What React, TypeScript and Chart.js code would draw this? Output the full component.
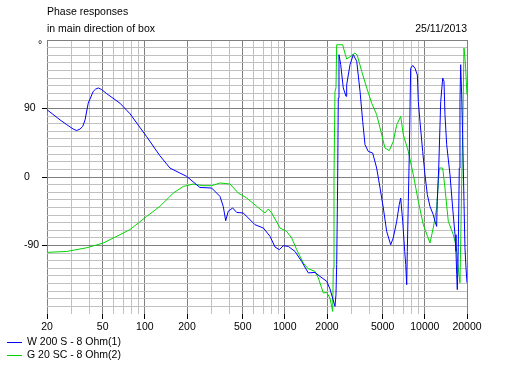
import React, { useEffect, useRef } from "react";
import { Chart, registerables } from "chart.js";

Chart.register(...registerables);

const titleLines = ["Phase responses", "in main direction of box"];
const dateText = "25/11/2013";
const unitText = "°";

const xLabeled = [20, 50, 100, 200, 500, 1000, 2000, 5000, 10000, 20000];
const xGridTicks = [20, 30, 40, 50, 60, 70, 80, 90, 100, 200, 300, 400, 500, 600, 700, 800, 900, 1000, 2000, 3000, 4000, 5000, 6000, 7000, 8000, 9000, 10000, 20000];
const yLabeled = [90, 0, -90];

const seriesNames = ["W 200 S - 8 Ohm(1)", "G 20 SC - 8 Ohm(2)"];
const seriesColors = ["#0000ff", "#00d400"];

const blueFreq = [20, 24.8, 27.7, 30.8, 32.6, 34.4, 36, 37.4, 39.4, 42.8, 44.5, 46.5, 49, 53.4, 66.4, 78.4,
  103, 128, 151, 178, 199, 247, 300, 344, 363, 378,
  394, 424, 453, 505, 612, 702, 784, 851, 913, 975,
  1059, 1182, 1318, 1470, 1643, 1782, 1990, 2100, 2281, 2318,
  2346, 2384, 2408, 2436, 2506, 2614, 2734, 2764, 2920, 3082,
  3260, 3444, 3598, 3737, 3944, 4240, 4526, 4786, 5050, 5337,
  5700, 5950, 6296, 6560, 6720, 6946, 7180, 7300, 7420, 7490,
  7620, 7740, 7920, 8190, 8500, 8840, 8980, 9230, 9650, 10020,
  10410, 10880, 11480, 11810, 12140, 12260, 12560, 12980, 13410, 13700,
  13920, 14320, 15120, 15800, 16420, 16690, 16880, 17050, 17320, 17620,
  17820, 18020, 18320, 18620, 19030, 19340, 19680, 20000];
const bluePhase = [88.4, 75, 68.7, 63, 61, 63, 66.5, 75, 97, 112.5, 115.5, 117, 115, 109.5, 97, 83,
  53, 28, 11.8, 5.2, 0.8, -13.7, -14.5, -25.5, -38.6, -57.4,
  -45, -40.7, -46.5, -47.3, -62.7, -67, -78, -92, -95.5, -90.3,
  -91.2, -97.8, -111, -126, -125.4, -130.6, -137, -147, -170, -154.7,
  -115, -1.3, 103.8, 160.7, 147.6, 117, 106, 121, 147.6, 160.7,
  152, 112.5, 73, 42.4, 33.6, 31.5, 11.8, -14.5, -40.7, -71.5,
  -89, -80, -58, -36.4, -27.6, -58, -97.8, -115, -141.5, -97.8,
  -32, 29, 143, 146.6, 143, 134, 99, 73, 33.6, 3,
  -23, -38.6, -49.5, -58, -64.9, -32, 11.8, 99, 130, 125.6,
  82, 42.4, 3, -40.7, -75.8, -97.8, -128, -148, -93, 11.8,
  99, 147.6, 108, 55.6, -32, -93, -119.6, -139];

const greenFreq = [20, 27.7, 38.4, 50.5, 66.4, 78.4, 103, 128, 160, 188,
  222, 261, 300, 344, 406, 464, 534, 630, 721, 762,
  806, 923, 1030, 1118, 1215, 1354, 1470, 1643, 1734, 1882,
  1990, 2100, 2196, 2218, 2244, 2281, 2318, 2346, 2590, 2644,
  2764, 2920, 3170, 3290, 3540, 3845, 4170, 4526, 4786, 5190,
  5570, 5950, 6296, 6720, 7014, 7620, 8270, 8980, 9750, 10880,
  11480, 12140, 12680, 13410, 13920, 14700, 15960, 16420, 16880, 17320,
  17820, 18320, 18620, 19030, 19440, 19770, 20000];
const greenPhase = [-99, -97.8, -93, -86.7, -75.8, -69, -51.8, -38.6, -21, -12.4,
  -9.2, -11.4, -11.4, -7.9, -9.2, -21, -27.6, -38.6, -47.3, -42,
  -47.3, -67, -71.5, -80, -95.5, -113, -120.5, -124, -132.7, -152.4,
  -151.6, -159, -176.6, -119.6, -1.3, 112.5, 117, 173.8, 173.8, 167,
  155, 158, 163, 160, 138.8, 117, 97, 82, 64.4, 38,
  34.6, 46.8, 68.7, 79.6, 55.6, 33.6, 3, -32, -62.7, -86.7,
  -67, -40.7, 11.8, 11.8, -14.5, -58, -75.8, -84.6, -97.8, -119.6,
  -139, -10, 55.6, 169.5, 152, 125.6, 108];

const FONT = '10.5px "Liberation Sans", Arial, sans-serif';

const textPlugin = {
  id: "textPlugin",
  afterDraw(chart: any) {
    const ctx = chart.ctx;
    const area = chart.chartArea;
    ctx.save();
    ctx.font = FONT;
    ctx.fillStyle = "#000";
    ctx.textBaseline = "middle";
    ctx.textAlign = "left";
    ctx.fillText(titleLines[0], area.left, 12.5);
    ctx.fillText(titleLines[1], area.left, 29);
    ctx.textAlign = "right";
    ctx.fillText(dateText, area.right, 29);
    ctx.textAlign = "center";
    ctx.fillText(unitText, area.left - 7, area.top + 5);
    chart.data.datasets.forEach((ds: any, i: number) => {
      const y = 342.5 + i * 13;
      ctx.strokeStyle = ds.borderColor;
      ctx.lineWidth = 1;
      ctx.beginPath();
      ctx.moveTo(7, y);
      ctx.lineTo(22, y);
      ctx.stroke();
      ctx.textAlign = "left";
      ctx.fillStyle = "#000";
      ctx.fillText(ds.label, 27, y);
    });
    ctx.restore();
  },
};

export default function App() {
  const ref = useRef<HTMLCanvasElement>(null);
  useEffect(() => {
    if (!ref.current) return;
    Chart.defaults.font.family = '"Liberation Sans", Arial, sans-serif';
    Chart.defaults.font.size = 10.5;
    Chart.defaults.color = "#000";
    const chart = new Chart(ref.current, {
      type: "line",
      data: {
        datasets: [
          {
            label: seriesNames[0],
            data: blueFreq.map((f, i) => ({ x: f, y: bluePhase[i] })),
            borderColor: seriesColors[0],
            borderWidth: 1,
            pointRadius: 0,
            tension: 0,
            fill: false,
          },
          {
            label: seriesNames[1],
            data: greenFreq.map((f, i) => ({ x: f, y: greenPhase[i] })),
            borderColor: seriesColors[1],
            borderWidth: 1,
            pointRadius: 0,
            tension: 0,
            fill: false,
          },
        ],
      },
      options: {
        responsive: false,
        animation: false,
        events: [],
        layout: { padding: { left: 24, top: 40, right: 47, bottom: 33 } },
        plugins: { legend: { display: false }, title: { display: false }, tooltip: { enabled: false } },
        scales: {
          x: {
            type: "logarithmic",
            min: 20,
            max: 20000,
            border: { display: false },
            afterBuildTicks: (scale: any) => {
              scale.ticks = xGridTicks.map((v) => ({ value: v }));
            },
            afterFit: (scale: any) => {
              scale.height = 20;
            },
            grid: {
              color: (c: any) => (xLabeled.includes(c.tick?.value) ? "#808080" : "#c0c0c0"),
              tickColor: (c: any) => (xLabeled.includes(c.tick?.value) ? "#000" : "rgba(0,0,0,0)"),
              tickLength: 5,
              lineWidth: 1,
            },
            ticks: {
              autoSkip: false,
              maxRotation: 0,
              minRotation: 0,
              padding: 2,
              color: "#000",
              font: { size: 10.5 },
              callback: (v: any) => (xLabeled.includes(Number(v)) ? String(v) : ""),
            },
          },
          y: {
            type: "linear",
            min: -180,
            max: 180,
            border: { display: false },
            afterFit: (scale: any) => {
              scale.width = 23;
            },
            grid: {
              color: (c: any) => {
                const v = c.tick?.value;
                if (v === -180) return "rgba(0,0,0,0)";
                return Math.abs(v) % 90 === 0 ? "#808080" : "#c0c0c0";
              },
              tickColor: (c: any) => (yLabeled.includes(c.tick?.value) ? "#000" : "rgba(0,0,0,0)"),
              tickLength: 5,
              lineWidth: 1,
            },
            ticks: {
              stepSize: 10,
              autoSkip: false,
              crossAlign: "far",
              padding: 2,
              color: "#000",
              font: { size: 10.5 },
              callback: (v: any) => (yLabeled.includes(Number(v)) ? String(v) : ""),
            },
          },
        },
      },
      plugins: [textPlugin],
    } as any);
    return () => chart.destroy();
  }, []);
  return (
    <div style={{ position: "absolute", left: 0, top: 0, width: 514, height: 367, background: "#fff" }}>
      <canvas ref={ref} width={514} height={367} style={{ width: 514, height: 367 }} />
    </div>
  );
}
